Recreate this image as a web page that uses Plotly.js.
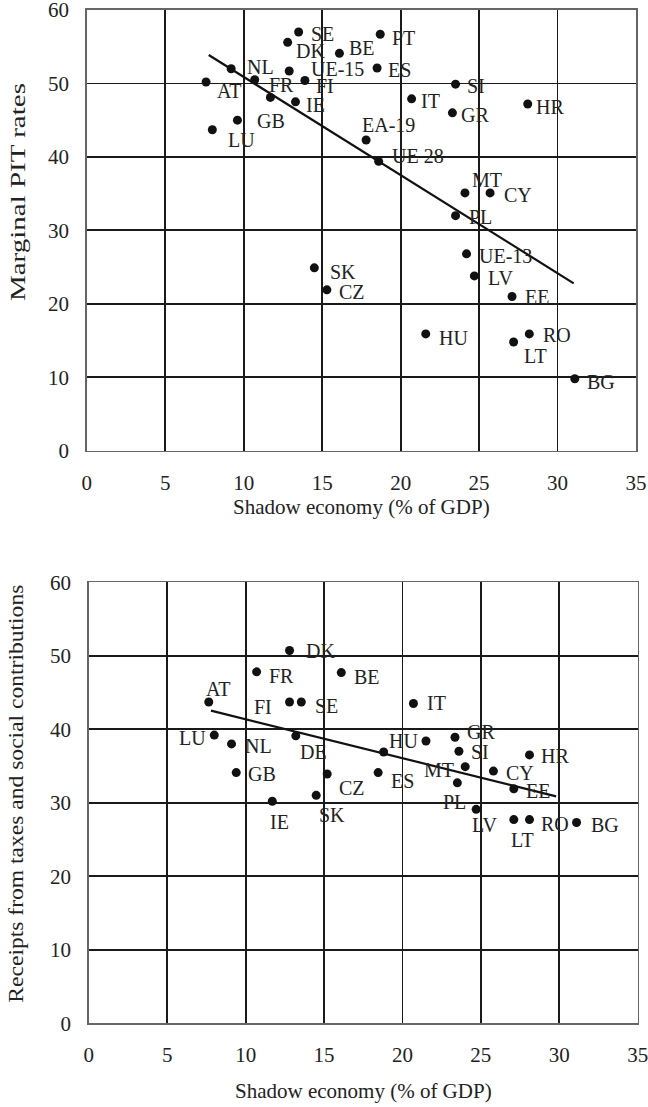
<!DOCTYPE html>
<html>
<head>
<meta charset="utf-8">
<script src="https://cdn.plot.ly/plotly-3.0.1.min.js"></script>
<style>
  html, body { margin: 0; padding: 0; background: #fff; }
  #chart { width: 648px; height: 1107px; }
</style>
</head>
<body>
<div id="chart"></div>
<script>
// Upper panel: marginal PIT rates against the size of the shadow economy
const labelsTop = ["SE", "DK", "BE", "PT", "NL", "UE-15", "ES", "AT", "FR", "FI", "", "IE", "GB", "LU",
  "EA-19", "UE 28", "IT", "SI", "GR", "HR", "MT", "CY", "PL", "SK", "CZ", "UE-13", "LV", "EE", "HU", "RO", "LT", "BG"];
const shadowTop = [13.5, 12.8, 16.1, 18.7, 9.2, 12.9, 18.5, 7.6, 10.7, 13.9, 11.7, 13.3, 9.6, 8.0,
  17.8, 18.6, 20.7, 23.5, 23.3, 28.1, 24.1, 25.7, 23.5, 14.5, 15.3, 24.2, 24.7, 27.1, 21.6, 28.2, 27.2, 31.1];
const pitRates = [57.0, 55.6, 54.1, 56.7, 52.0, 51.7, 52.1, 50.2, 50.5, 50.4, 48.1, 47.5, 45.0, 43.7,
  42.3, 39.4, 47.9, 49.9, 46.0, 47.2, 35.1, 35.1, 32.0, 24.9, 21.9, 26.8, 23.8, 21.0, 15.9, 15.9, 14.8, 9.8];
const trendTopX = [7.77, 31.03];
const trendTopY = [53.87, 22.79];

// Lower panel: receipts from taxes and social contributions
const labelsBottom = ["DK", "FR", "BE", "AT", "FI", "SE", "IT", "LU", "NL", "DE", "HU", "GR", "SI", "",
  "HR", "MT", "CY", "GB", "CZ", "ES", "PL", "EE", "SK", "IE", "LV", "LT", "RO", "BG"];
const shadowBottom = [12.8, 10.7, 16.1, 7.65, 12.8, 13.55, 20.7, 8.0, 9.1, 13.2, 21.5, 23.35, 23.6, 18.8,
  28.1, 24.0, 25.8, 9.4, 15.2, 18.45, 23.5, 27.1, 14.5, 11.7, 24.7, 27.1, 28.1, 31.1];
const receipts = [50.7, 47.8, 47.7, 43.7, 43.7, 43.7, 43.5, 39.2, 38.0, 39.1, 38.4, 38.9, 37.0, 36.9,
  36.5, 34.9, 34.3, 34.1, 33.9, 34.1, 32.7, 31.9, 31.0, 30.2, 29.1, 27.7, 27.7, 27.3];
const trendBottomX = [7.79, 29.8];
const trendBottomY = [42.52, 30.87];

const xTicks = [0, 5, 10, 15, 20, 25, 30, 35];
const yTicks = [0, 10, 20, 30, 40, 50, 60];

// Label placement beside each dot: anchor (l/r/c), shift right, shift down (px)
const placeTop = [
  ["l", 10, 1], ["l", 6, 8], ["l", 8, -6], ["l", 10, 3], ["l", 14, -3], ["l", 20, -3], ["l", 9, 1],
  ["l", 9, 8], ["l", 12, 4], ["l", 9, 4], ["l", 0, 0], ["l", 8, 2], ["l", 18, 0], ["l", 14, 9],
  ["l", -6, -16], ["l", 11, -6], ["l", 7, 1], ["l", 9, 1], ["l", 7, 1], ["l", 6, 2], ["l", 5, -14],
  ["l", 12, 1], ["l", 11, 0], ["l", 14, 3], ["l", 10, 1], ["l", 10, 1], ["l", 12, 1], ["l", 11, 0],
  ["l", 11, 3], ["l", 12, 0], ["l", 8, 13], ["l", 10, 2]
];
const placeBottom = [
  ["l", 14, -1], ["l", 10, 3], ["l", 11, 3], ["l", -5, -14], ["r", -16, 4], ["l", 12, 3], ["l", 12, -1],
  ["r", -6, 2], ["l", 11, 1], ["l", 2, 15], ["r", -6, -1], ["l", 10, -6], ["l", 10, 0], ["l", 0, 0],
  ["l", 10, 0], ["r", -9, 2], ["l", 11, 1], ["l", 10, 0], ["l", 10, 13], ["l", 11, 7], ["c", -3, 18],
  ["l", 10, 1], ["l", 1, 19], ["l", -4, 20], ["l", -6, 15], ["l", -5, 19], ["l", 10, 3], ["l", 12, 1]
];

const FONT = "'Liberation Serif', 'Times New Roman', serif";
const INK = "#222";
const anchorMap = { l: "left", r: "right", c: "center" };

function pointLabels(labels, xs, ys, place, xa, ya) {
  const out = [];
  labels.forEach((t, i) => {
    if (!t) return;
    const p = place[i];
    out.push({
      x: xs[i], y: ys[i], xref: xa, yref: ya, text: t, showarrow: false,
      xanchor: anchorMap[p[0]], yanchor: "middle",
      xshift: p[1], yshift: -p[2] - 1,
      font: { family: FONT, size: 20, color: INK }
    });
  });
  return out;
}

const dotStyle = { color: "#111", size: 9 };
const lineStyle = { color: "#111", width: 2.2 };

const traces = [
  { x: shadowTop, y: pitRates, type: "scatter", mode: "markers", marker: dotStyle, xaxis: "x", yaxis: "y", hoverinfo: "skip" },
  { x: trendTopX, y: trendTopY, type: "scatter", mode: "lines", line: lineStyle, xaxis: "x", yaxis: "y", hoverinfo: "skip" },
  { x: shadowBottom, y: receipts, type: "scatter", mode: "markers", marker: dotStyle, xaxis: "x2", yaxis: "y2", hoverinfo: "skip" },
  { x: trendBottomX, y: trendBottomY, type: "scatter", mode: "lines", line: lineStyle, xaxis: "x2", yaxis: "y2", hoverinfo: "skip" }
];

function xAxis(domain, anchor) {
  return {
    domain: domain, anchor: anchor, range: [0, 35], tickvals: xTicks, ticktext: xTicks.map(String),
    showgrid: true, gridcolor: "#1a1a1a", gridwidth: 1.8, zeroline: false,
    showline: true, linecolor: "#666", linewidth: 1.6, mirror: true,
    ticks: "", ticklabelstandoff: 12, ticklabeloverflow: "allow",
    tickfont: { family: FONT, size: 21, color: INK }
  };
}
function yAxis(domain, anchor) {
  return {
    domain: domain, anchor: anchor, range: [0, 60], tickvals: yTicks, ticktext: yTicks.map(String),
    showgrid: true, gridcolor: "#1a1a1a", gridwidth: 1.8, zeroline: false,
    showline: true, linecolor: "#666", linewidth: 1.6, mirror: true,
    ticks: "", ticklabelstandoff: 12, ticklabeloverflow: "allow",
    tickfont: { family: FONT, size: 21, color: INK }
  };
}

// Rotated axis titles are drawn elongated along their baseline
const titleLength = {
  "Marginal PIT rates": 218,
  "Receipts from taxes and social contributions": 418
};

const titleFont = { family: FONT, size: 21, color: INK };
const annotations = [
  { xref: "x domain", x: 0.5, yref: "paper", y: 1 - 507 / 1107, yanchor: "middle", xanchor: "center",
    text: "Shadow economy (% of GDP)", showarrow: false, font: titleFont },
  { xref: "x2 domain", x: 0.5, yref: "paper", y: 1 - 1091 / 1107, yanchor: "middle", xanchor: "center",
    text: "Shadow economy (% of GDP)", showarrow: false, font: titleFont },
  { xref: "paper", x: 18 / 648, yref: "paper", y: 1 - 192 / 1107, xanchor: "center", yanchor: "middle",
    textangle: -90, text: "Marginal PIT rates", showarrow: false, font: titleFont },
  { xref: "paper", x: 16 / 648, yref: "paper", y: 1 - 794 / 1107, xanchor: "center", yanchor: "middle",
    textangle: -90, text: "Receipts from taxes and social contributions", showarrow: false, font: titleFont }
].concat(
  pointLabels(labelsTop, shadowTop, pitRates, placeTop, "x", "y"),
  pointLabels(labelsBottom, shadowBottom, receipts, placeBottom, "x2", "y2")
);

const layout = {
  width: 648, height: 1107,
  margin: { l: 0, r: 0, t: 0, b: 0 },
  paper_bgcolor: "#fff", plot_bgcolor: "#fff",
  showlegend: false,
  xaxis: xAxis([86.8 / 648, 636 / 648], "y"),
  yaxis: yAxis([1 - 450.7 / 1107, 1 - 10 / 1107], "x"),
  xaxis2: xAxis([88.8 / 648, 637.7 / 648], "y2"),
  yaxis2: yAxis([1 - 1023.2 / 1107, 1 - 582.2 / 1107], "x2"),
  annotations: annotations
};

Plotly.newPlot("chart", traces, layout, { staticPlot: true }).then(function (gd) {
  gd.querySelectorAll("text.annotation-text").forEach(function (el) {
    const len = titleLength[el.textContent];
    if (len) {
      el.setAttribute("textLength", len);
      el.setAttribute("lengthAdjust", "spacingAndGlyphs");
    }
  });
});
</script>
</body>
</html>
